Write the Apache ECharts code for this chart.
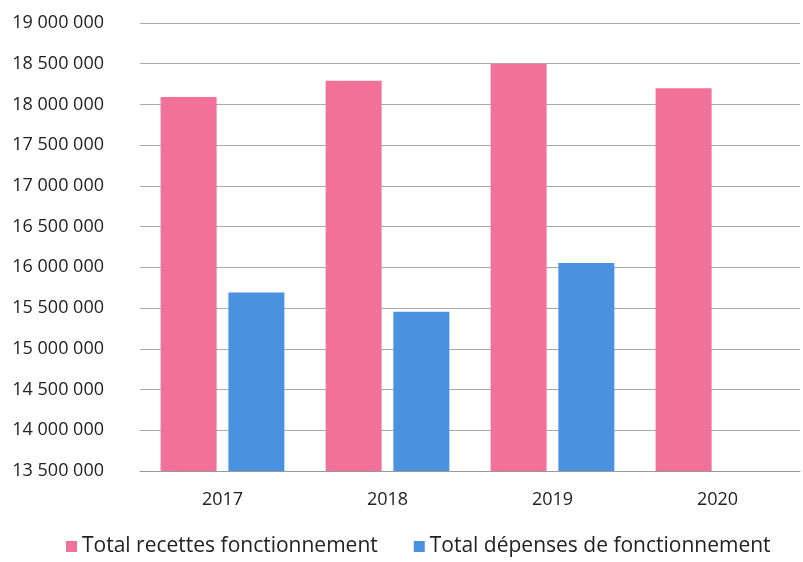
<!DOCTYPE html>
<html>
<head>
<meta charset="utf-8">
<script src="https://cdn.jsdelivr.net/npm/echarts@6/dist/echarts.min.js"></script>
<style>
html,body{margin:0;padding:0;background:#fff;}
#chart{width:803px;height:562px;}
</style>
</head>
<body>
<div id="chart"></div>
<script>
const categories = ['2017', '2018', '2019', '2020'];
const recettes = [18090000, 18290000, 18500000, 18200000];
const depenses = [15690000, 15455000, 16055000, null];
const seriesNames = ['Total recettes fonctionnement', 'Total dépenses de fonctionnement'];

const chart = echarts.init(document.getElementById('chart'));
const font = 'Open Sans';
chart.setOption({
  animation: false,
  backgroundColor: '#fff',
  grid: { left: 140, right: 3, top: 23, bottom: 91, containLabel: false },
  legend: {
    bottom: 0,
    left: 61,
    itemWidth: 11,
    itemHeight: 11,
    itemGap: 36,
    icon: 'rect',
    textStyle: { fontFamily: font, fontSize: 21, color: '#222' },
    data: seriesNames
  },
  xAxis: {
    type: 'category',
    data: categories,
    axisTick: { show: false },
    axisLine: { lineStyle: { color: '#999', width: 1 } },
    axisLabel: { fontFamily: font, fontSize: 18, color: '#222', margin: 20 }
  },
  yAxis: {
    type: 'value',
    min: 13500000,
    max: 19000000,
    interval: 500000,
    axisLine: { show: false },
    axisTick: { show: false },
    splitLine: { lineStyle: { color: '#aaa', width: 1 } },
    axisLabel: {
      fontFamily: font, fontSize: 18, color: '#222', margin: 36,
      formatter: v => v.toLocaleString('fr-FR').replace(/\u202f|\u00a0/g, ' ')
    }
  },
  series: [
    {
      name: seriesNames[0], type: 'bar', data: recettes,
      itemStyle: { color: '#F2719A' },
      barGap: '21%', barCategoryGap: '25%'
    },
    {
      name: seriesNames[1], type: 'bar', data: depenses,
      itemStyle: { color: '#4A92E0' },
      barGap: '21%', barCategoryGap: '25%'
    }
  ]
});
</script>
</body>
</html>
